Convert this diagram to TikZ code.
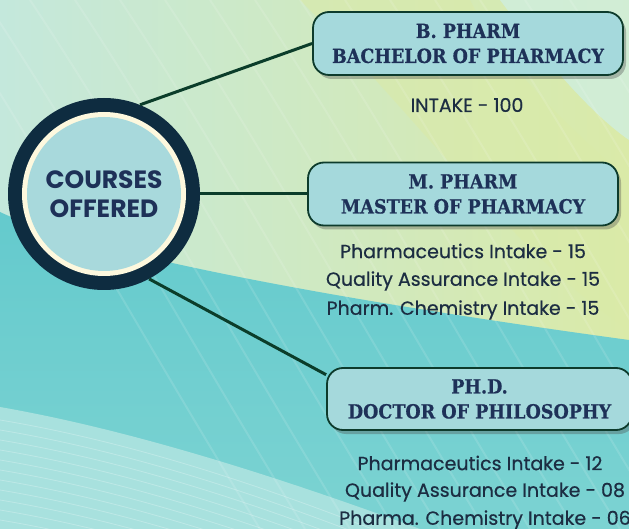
\documentclass[tikz,border=0pt]{standalone}
\usepackage{fontspec}
\setmainfont{DejaVu Serif Condensed}[FakeBold=0.6]
\newfontfamily\popfont{Poppins}[FakeBold=0.5]
\newfontfamily\popbold{Poppins}
\usetikzlibrary{shadows}
\definecolor{ringdark}{HTML}{0E2C40}
\definecolor{creamc}{HTML}{FDF8DE}
\definecolor{circfill}{HTML}{A8D9DC}
\definecolor{boxfill}{HTML}{A5D9DC}
\definecolor{boxedge}{HTML}{0D3B2C}
\definecolor{navy}{HTML}{1E3158}
\definecolor{bodytext}{HTML}{1C2D42}
\definecolor{linec}{HTML}{0B3D2A}
\definecolor{bgmint}{HTML}{C4E8DC}
\definecolor{bgyel}{HTML}{DAEAA8}
\definecolor{bglight}{HTML}{CFEEE0}
\definecolor{bgteal}{HTML}{64CACD}
\definecolor{bgteal2}{HTML}{7CD3D2}
\definecolor{bgpale}{HTML}{A8E1DE}
\tikzset{
  titlebox/.style={draw=boxedge, line width=1.8pt, fill=boxfill, rounded corners=16pt,
    minimum width=310pt, minimum height=63pt, align=center, inner sep=0pt,
    font=\bfseries\fontsize{19.5}{25}\selectfont, text=navy,
    drop shadow={shadow xshift=3pt, shadow yshift=-4pt, opacity=0.35, fill=black!70}},
  bodytxt/.style={font=\popfont\fontsize{19}{22}\selectfont, text=bodytext, inner sep=0pt, anchor=center},
  connector/.style={draw=linec, line width=3pt},
  stripe/.style={white, opacity=0.12, line width=2pt}
}
\begin{document}
\begin{tikzpicture}[x=1pt, y=-1pt]
\useasboundingbox (0,0) rectangle (629,529);
% background
\shade[left color=bgmint, right color=bgyel] (0,0) rectangle (629,529);
\fill[bglight, opacity=0.8] (500,0) .. controls (560,80) and (600,120) .. (629,140) -- (629,0) -- cycle;
\fill[bgyel, opacity=0.6] (300,0) .. controls (420,120) and (520,260) .. (629,330) -- (629,180) .. controls (560,120) and (500,60) .. (470,0) -- cycle;
\shade[top color=bgteal, bottom color=bgteal2] (0,212) .. controls (80,250) and (300,295) .. (629,340) -- (629,529) -- (0,529) -- cycle;
\fill[bgpale] (0,407) .. controls (120,428) and (260,470) .. (420,529) -- (0,529) -- cycle;
\foreach \i in {0,...,14} {
  \draw[stripe] (\i*45-60,0) .. controls (\i*45+40,150) and (\i*45+120,300) .. (\i*45+260,529);
}
\foreach \i in {0,...,10} {
  \draw[white, opacity=0.25, line width=0.8pt] (0,420+\i*10) .. controls (120,440+\i*10) and (250,480+\i*10) .. (400,540+\i*10);
}
% central circle
\node[circle, fill=ringdark, minimum size=192pt, inner sep=0pt] (circ) at (104,194) {};
\node[circle, fill=creamc, minimum size=164pt, inner sep=0pt] (ring) at (104,194) {};
\node[circle, fill=circfill, minimum size=154pt, inner sep=0pt, align=center, text=navy,
  font=\popbold\bfseries\fontsize{25}{29}\selectfont] (ctext) at (104,194) {COURSES\\OFFERED};
% boxes
\node[titlebox] (bbox) at (468,43.5) {B. PHARM\\BACHELOR OF PHARMACY};
\node[titlebox] (mbox) at (463,194) {M. PHARM\\MASTER OF PHARMACY};
\node[titlebox, minimum width=305pt, minimum height=62pt] (pbox) at (479.5,399) {PH.D.\\DOCTOR OF PHILOSOPHY};
% connectors
\draw[connector] (circ.68) -- (bbox.west);
\draw[connector] (circ.east) -- (mbox.west);
\draw[connector] (circ.-62) -- (pbox.171);
% body text
\node[bodytxt] (bi) at (467,105) {INTAKE - 100};
\node[bodytxt] (m1) at (463,251) {Pharmaceutics Intake - 15};
\node[bodytxt] (m2) at (463,281) {Quality Assurance Intake - 15};
\node[bodytxt] (m3) at (463,310) {Pharm. Chemistry Intake - 15};
\node[bodytxt] (p1) at (480,463) {Pharmaceutics Intake - 12};
\node[bodytxt] (p2) at (485,492) {Quality Assurance Intake - 08};
\node[bodytxt] (p3) at (485,520) {Pharma. Chemistry Intake - 06};
\end{tikzpicture}
\end{document}
